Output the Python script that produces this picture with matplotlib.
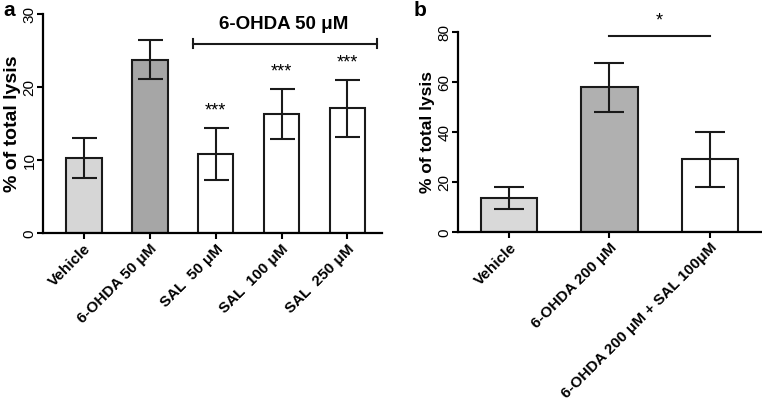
import numpy as np
import matplotlib
matplotlib.use('Agg')
import matplotlib.pyplot as plt

plt.rcParams['font.family'] = ['Liberation Sans', 'DejaVu Sans']

# panel a
a_labels = ['Vehicle', '6-OHDA 50 \u03bcM', 'SAL  50 \u03bcM', 'SAL  100 \u03bcM', 'SAL  250 \u03bcM']
a_means = [10.3, 23.8, 10.85, 16.35, 17.1]
a_err = [2.75, 2.65, 3.55, 3.45, 3.9]
a_colors = ['#d6d6d6', '#a6a6a6', 'white', 'white', 'white']
a_stars = ['', '', '***', '***', '***']

# panel b
b_labels = ['Vehicle', '6-OHDA 200 \u03bcM', '6-OHDA 200 \u03bcM + SAL 100\u03bcM']
b_means = [13.8, 58.0, 29.2]
b_err = [4.5, 9.7, 10.9]
b_colors = ['#d9d9d9', '#b0b0b0', 'white']

fig = plt.figure(figsize=(7.62, 4.04), dpi=100)
ax1 = fig.add_axes([0.0564, 0.4225, 0.4446, 0.5421])
ax2 = fig.add_axes([0.601, 0.425, 0.399, 0.495])


def style(ax):
    for s in ['top', 'right']:
        ax.spines[s].set_visible(False)
    for s in ['left', 'bottom']:
        ax.spines[s].set_linewidth(1.6)
    ax.tick_params(width=1.5, length=4, labelsize=11, pad=2)
    ax.tick_params(axis='y', pad=0.5)
    for t in ax.get_yticklabels():
        t.set_rotation(90)
        t.set_va('center')


x = np.arange(len(a_labels))
ax1.bar(x, a_means, width=0.54, color=a_colors, edgecolor='#1a1a1a', linewidth=1.5, zorder=2)
ax1.errorbar(x, a_means, yerr=a_err, fmt='none', ecolor='#1a1a1a', elinewidth=1.5,
             capsize=9, capthick=1.5, zorder=3)
ax1.set_xlim(-0.62, 4.52)
ax1.set_ylim(0, 30)
ax1.set_yticks([0, 10, 20, 30])
ax1.set_xticks(x)
ax1.set_xticklabels(a_labels, rotation=45, ha='right', rotation_mode='anchor',
                    fontweight='bold', fontsize=12.5)
ax1.set_ylabel('% of total lysis', fontweight='bold', fontsize=14, labelpad=1)
style(ax1)
for i, s in enumerate(a_stars):
    if s:
        ax1.text(i, a_means[i] + a_err[i] + 2.3, s, ha='center', va='center', fontsize=13)
ax1.plot([1.65, 4.45], [26.0, 26.0], color='#1a1a1a', lw=1.5, clip_on=False)
ax1.plot([1.65, 1.65], [25.4, 26.6], color='#1a1a1a', lw=1.5, clip_on=False)
ax1.plot([4.45, 4.45], [25.4, 26.6], color='#1a1a1a', lw=1.5, clip_on=False)
ax1.text(3.03, 28.6, '6-OHDA 50 \u03bcM', ha='center', va='center', fontsize=13.5,
         fontweight='bold', clip_on=False)

xb = np.arange(len(b_labels))
ax2.bar(xb, b_means, width=0.56, color=b_colors, edgecolor='#1a1a1a', linewidth=1.5, zorder=2)
ax2.errorbar(xb, b_means, yerr=b_err, fmt='none', ecolor='#1a1a1a', elinewidth=1.5,
             capsize=11, capthick=1.5, zorder=3)
ax2.set_xlim(-0.51, 2.52)
ax2.set_ylim(0, 80)
ax2.set_yticks([0, 20, 40, 60, 80])
ax2.set_xticks(xb)
ax2.set_xticklabels(b_labels, rotation=45, ha='right', rotation_mode='anchor',
                    fontweight='bold', fontsize=10.5)
ax2.set_ylabel('% of total lysis', fontweight='bold', fontsize=12.5, labelpad=2)
style(ax2)
ax2.plot([1.0, 2.0], [78.6, 78.6], color='#1a1a1a', lw=1.5, clip_on=False)
ax2.text(1.5, 84.5, '*', ha='center', va='center', fontsize=13, clip_on=False)

fig.text(0.004, 0.975, 'a', fontsize=15, fontweight='bold', va='center')
fig.text(0.543, 0.975, 'b', fontsize=15, fontweight='bold', va='center')

fig.savefig('out.png', dpi=100)
